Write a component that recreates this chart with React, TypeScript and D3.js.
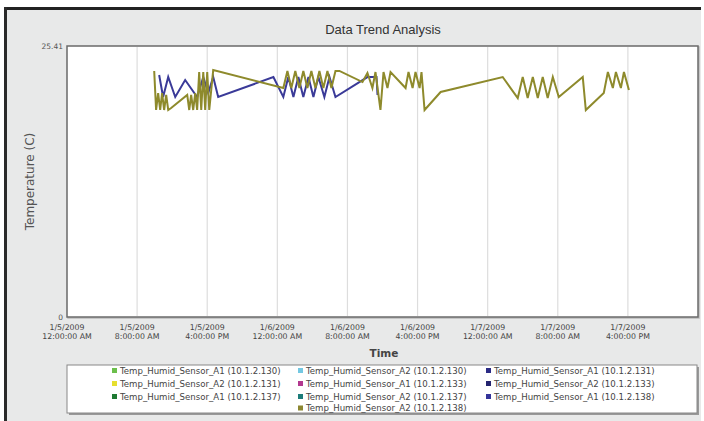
// Data Trend Analysis - temperature sensors over three days
import React from 'react';
import * as d3 from 'd3';

const parseTime = d3.timeParse('%Y-%m-%d %H:%M');

const xTickTimes = [
  '2009-01-05 00:00', '2009-01-05 08:00', '2009-01-05 16:00',
  '2009-01-06 00:00', '2009-01-06 08:00', '2009-01-06 16:00',
  '2009-01-07 00:00', '2009-01-07 08:00', '2009-01-07 16:00'
];
const xTickLabels = [
  ['1/5/2009', '12:00:00 AM'], ['1/5/2009', '8:00:00 AM'], ['1/5/2009', '4:00:00 PM'],
  ['1/6/2009', '12:00:00 AM'], ['1/6/2009', '8:00:00 AM'], ['1/6/2009', '4:00:00 PM'],
  ['1/7/2009', '12:00:00 AM'], ['1/7/2009', '8:00:00 AM'], ['1/7/2009', '4:00:00 PM']
];
const yTickValues = [0, 25.41];

// Temp_Humid_Sensor_A1 (10.1.2.138)
const navyTimes = [
  '2009-01-05 10:31', '2009-01-05 10:58', '2009-01-05 11:33', '2009-01-05 12:21',
  '2009-01-05 13:29', '2009-01-05 14:51', '2009-01-05 15:33', '2009-01-05 16:07',
  '2009-01-05 16:41', '2009-01-05 17:15', '2009-01-05 23:33', '2009-01-06 00:41',
  '2009-01-06 01:15', '2009-01-06 01:50', '2009-01-06 02:24', '2009-01-06 02:58',
  '2009-01-06 03:33', '2009-01-06 04:07', '2009-01-06 04:41', '2009-01-06 05:22',
  '2009-01-06 05:57', '2009-01-06 06:38', '2009-01-06 10:17', '2009-01-06 11:19',
  '2009-01-06 11:26'
];
const navyValues = [
  22.69, 20.63, 22.50, 20.63,
  22.22, 20.63, 22.50, 21.00,
  22.50, 20.63, 22.50, 20.63,
  22.50, 20.63, 22.50, 20.63,
  22.50, 20.63, 22.50, 20.63,
  22.50, 20.63, 22.50, 22.50,
  20.82
];

// Temp_Humid_Sensor_A2 (10.1.2.138)
const oliveTimes = [
  '2009-01-05 09:57', '2009-01-05 10:10', '2009-01-05 10:24', '2009-01-05 10:38',
  '2009-01-05 10:51', '2009-01-05 11:05', '2009-01-05 11:19', '2009-01-05 11:33',
  '2009-01-05 11:53', '2009-01-05 13:43', '2009-01-05 13:57', '2009-01-05 14:10',
  '2009-01-05 14:24', '2009-01-05 14:38', '2009-01-05 14:51', '2009-01-05 15:05',
  '2009-01-05 15:19', '2009-01-05 15:33', '2009-01-05 15:46', '2009-01-05 16:00',
  '2009-01-05 16:14', '2009-01-05 16:41', '2009-01-06 00:41', '2009-01-06 01:09',
  '2009-01-06 01:36', '2009-01-06 02:03', '2009-01-06 02:31', '2009-01-06 02:58',
  '2009-01-06 03:26', '2009-01-06 03:53', '2009-01-06 04:21', '2009-01-06 04:48',
  '2009-01-06 05:15', '2009-01-06 05:43', '2009-01-06 06:10', '2009-01-06 06:38',
  '2009-01-06 07:05', '2009-01-06 09:43', '2009-01-06 10:17', '2009-01-06 10:51',
  '2009-01-06 11:12', '2009-01-06 11:46', '2009-01-06 12:07', '2009-01-06 12:34',
  '2009-01-06 12:55', '2009-01-06 14:38', '2009-01-06 14:58', '2009-01-06 15:26',
  '2009-01-06 15:46', '2009-01-06 16:14', '2009-01-06 16:27', '2009-01-06 16:48',
  '2009-01-06 18:38', '2009-01-07 01:43', '2009-01-07 03:26', '2009-01-07 04:00',
  '2009-01-07 04:34', '2009-01-07 05:09', '2009-01-07 05:43', '2009-01-07 06:17',
  '2009-01-07 06:51', '2009-01-07 07:26', '2009-01-07 08:07', '2009-01-07 10:51',
  '2009-01-07 11:12', '2009-01-07 13:15', '2009-01-07 13:43', '2009-01-07 14:17',
  '2009-01-07 14:38', '2009-01-07 15:12', '2009-01-07 15:33', '2009-01-07 16:07'
];
const oliveValues = [
  23.07, 19.41, 21.00, 19.41,
  21.00, 19.41, 20.82, 19.41,
  19.60, 20.82, 19.41, 20.82,
  19.41, 21.00, 19.41, 22.97,
  19.41, 22.97, 19.41, 22.97,
  19.41, 23.16, 21.47, 23.07,
  21.47, 23.07, 21.47, 23.07,
  21.47, 23.07, 21.47, 23.07,
  21.47, 23.07, 21.47, 23.07,
  23.07, 22.03, 22.88, 21.47,
  22.97, 19.41, 22.97, 21.47,
  22.97, 21.47, 22.97, 21.47,
  22.97, 21.47, 22.97, 19.41,
  21.10, 22.50, 20.53, 22.50,
  20.53, 22.50, 20.53, 22.50,
  20.53, 22.50, 20.63, 22.50,
  19.41, 21.00, 22.97, 21.47,
  22.97, 21.47, 22.97, 21.28
];

const legendNames = [
  'Temp_Humid_Sensor_A1 (10.1.2.130)', 'Temp_Humid_Sensor_A2 (10.1.2.130)', 'Temp_Humid_Sensor_A1 (10.1.2.131)',
  'Temp_Humid_Sensor_A2 (10.1.2.131)', 'Temp_Humid_Sensor_A1 (10.1.2.133)', 'Temp_Humid_Sensor_A2 (10.1.2.133)',
  'Temp_Humid_Sensor_A1 (10.1.2.137)', 'Temp_Humid_Sensor_A2 (10.1.2.137)', 'Temp_Humid_Sensor_A1 (10.1.2.138)',
  'Temp_Humid_Sensor_A2 (10.1.2.138)'
];
const legendColors = [
  '#6cbf4c', '#74c8e2', '#2b2b85',
  '#e6df2e', '#b2388f', '#24246f',
  '#1f7a33', '#1c7c79', '#34349a',
  '#8c8730'
];

const W = 704;
const H = 421;
const plot = { left: 67, top: 46, right: 698, bottom: 317 };
const font = 'DejaVu Sans, Verdana, sans-serif';

export default function App() {
  const x = d3.scaleTime()
    .domain([parseTime('2009-01-05 00:00')!, parseTime('2009-01-08 00:00')!])
    .range([plot.left, plot.right]);
  const y = d3.scaleLinear().domain([0, 25.41]).range([plot.bottom, plot.top]);

  const line = d3.line<[Date, number]>()
    .x(d => x(d[0]))
    .y(d => y(d[1]));

  const navy = navyTimes.map((t, i) => [parseTime(t)!, navyValues[i]] as [Date, number]);
  const olive = oliveTimes.map((t, i) => [parseTime(t)!, oliveValues[i]] as [Date, number]);

  const legendCols = [112, 298, 486];
  const legendRows = [373.5, 386.5, 399.5, 411];

  return (
    <div style={{ position: 'absolute', left: 0, top: 0, width: W, height: H, background: '#fff' }}>
      <svg width={W} height={H} style={{ display: 'block' }}>
        {/* panel */}
        <rect x={5} y={8} width={696} height={H} fill="#e8e9e9" />
        <rect x={4} y={7} width={697} height={3} fill="#222" />
        <rect x={4} y={7} width={3} height={H} fill="#2a2a2a" />

        <text x={383} y={34} textAnchor="middle" fontFamily="Liberation Sans, Arial, sans-serif"
          fontSize={13} fill="#333">Data Trend Analysis</text>

        {/* plot area */}
        <rect x={plot.left + 1} y={plot.top + 1} width={plot.right - plot.left} height={plot.bottom - plot.top}
          fill="none" stroke="#bbb" strokeWidth={1.5} />
        <rect x={plot.left} y={plot.top} width={plot.right - plot.left} height={plot.bottom - plot.top}
          fill="#fff" stroke="#6a6a6a" strokeWidth={1.5} />

        {xTickTimes.slice(1).map(t => (
          <line key={t} x1={x(parseTime(t)!)} x2={x(parseTime(t)!)} y1={plot.top + 1} y2={plot.bottom - 1}
            stroke="#dddddd" strokeWidth={1.2} />
        ))}

        <path d={line(navy) || ''} fill="none" stroke="#3a3a98" strokeWidth={2} strokeLinejoin="miter" />
        <path d={line(olive) || ''} fill="none" stroke="#8e8a2c" strokeWidth={2} strokeLinejoin="miter" />

        {/* y ticks */}
        {yTickValues.map(v => (
          <text key={v} x={63} y={y(v) + 3} textAnchor="end" fontFamily={font} fontSize={7.5} fill="#555">{v}</text>
        ))}
        <text transform={`translate(34,${(plot.top + plot.bottom) / 2}) rotate(-90)`} textAnchor="middle"
          fontFamily={font} fontSize={12} fill="#555">Temperature (C)</text>

        {/* x ticks */}
        {xTickTimes.map((t, i) => (
          <g key={t} transform={`translate(${x(parseTime(t)!)},0)`}>
            <text y={329.5} textAnchor="middle" fontFamily={font} fontSize={7.8} fill="#444">{xTickLabels[i][0]}</text>
            <text y={338.5} textAnchor="middle" fontFamily={font} fontSize={7.8} fill="#444">{xTickLabels[i][1]}</text>
          </g>
        ))}
        <text x={384} y={357} textAnchor="middle" fontFamily={font} fontSize={10.5} fontWeight="bold" fill="#444">Time</text>

        {/* legend */}
        <rect x={69} y={367} width={630} height={48} fill="#999" />
        <rect x={67} y={365} width={630} height={48} fill="#fff" stroke="#888" strokeWidth={1} />
        {legendNames.map((name, i) => {
          const col = i < 9 ? i % 3 : 1;
          const row = i < 9 ? Math.floor(i / 3) : 3;
          return (
            <g key={name} transform={`translate(${legendCols[col]},${legendRows[row]})`}>
              <rect x={0} y={-5.5} width={5} height={5} fill={legendColors[i]} />
              <text x={8} y={0} fontFamily={font} fontSize={8.6} fill="#444">{name}</text>
            </g>
          );
        })}
      </svg>
    </div>
  );
}
